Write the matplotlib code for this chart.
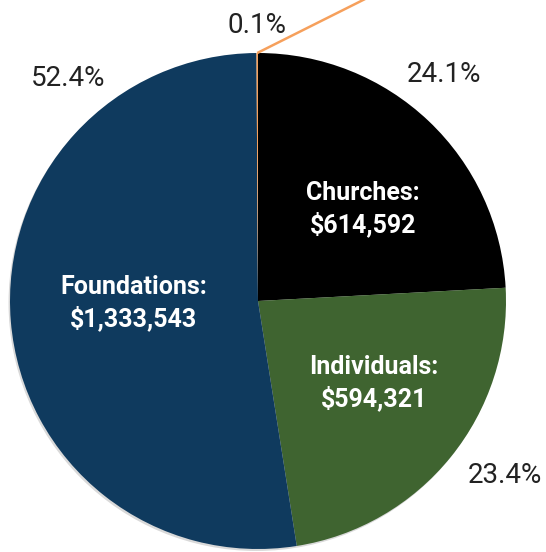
import numpy as np
import matplotlib
matplotlib.use("Agg")
import matplotlib.pyplot as plt
from matplotlib.patches import Circle

plt.rcParams['font.family'] = ['Roboto', 'DejaVu Sans']

# ---- data ----
categories = ["Churches", "Individuals", "Foundations", "Other"]
values = [614592, 594321, 1333543, 2500]
pct_labels = ["24.1%", "23.4%", "52.4%", "0.1%"]
inner_labels = ["Churches:\n$614,592", "Individuals:\n$594,321", "Foundations:\n$1,333,543", ""]

# ---- style ----
colors = ["#000000", "#3F6430", "#0F3A5E", "#F6A05C"]
# label positions (axes data units, pie radius = 1)
pct_pos = [(0.749, 0.885), (0.996, -0.735), (-0.766, 0.867), (-0.004, 1.080)]
inner_pos = [(0.423, 0.371), (0.468, -0.331), (-0.502, -0.008), None]

W, H, DPI = 546, 552, 100
fig = plt.figure(figsize=(W / DPI, H / DPI), dpi=DPI)
ax = fig.add_axes([0, 0, 1, 1])
cx_px, cy_px, r_px = 258, 301, 248

# soft shadow
ax.add_patch(Circle((-0.006, -0.008), 1.0, color="#d9d9d9", zorder=0, lw=0))

wedges, _ = ax.pie(values, colors=colors, startangle=90, counterclock=False,
                   radius=1.0, center=(0, 0), wedgeprops=dict(linewidth=0))
for w in wedges:
    w.set_zorder(1)

ax.set_aspect('auto')
ax.set_xlim(-cx_px / r_px, (W - cx_px) / r_px)
ax.set_ylim(-(H - cy_px) / r_px, cy_px / r_px)
ax.axis('off')

for txt, (x, y) in zip(pct_labels, pct_pos):
    ax.text(x, y, txt, fontsize=20, color="#222222", ha="center", va="baseline", zorder=3)

for txt, pos in zip(inner_labels, inner_pos):
    if pos is None:
        continue
    ax.text(pos[0], pos[1], txt, fontsize=18, fontweight="bold", color="white",
            ha="center", va="center", linespacing=1.3, zorder=3)

# leader line for the tiny slice
w = wedges[3]
mid = np.deg2rad((w.theta1 + w.theta2) / 2)
sx, sy = np.cos(mid), np.sin(mid)
ang = np.deg2rad(26.6)
L = 0.8
ax.plot([sx, sx + L * np.cos(ang)], [sy, sy + L * np.sin(ang)], color=colors[3], lw=1.8, zorder=2,
        solid_capstyle="butt")

fig.savefig("out.png", dpi=DPI)
